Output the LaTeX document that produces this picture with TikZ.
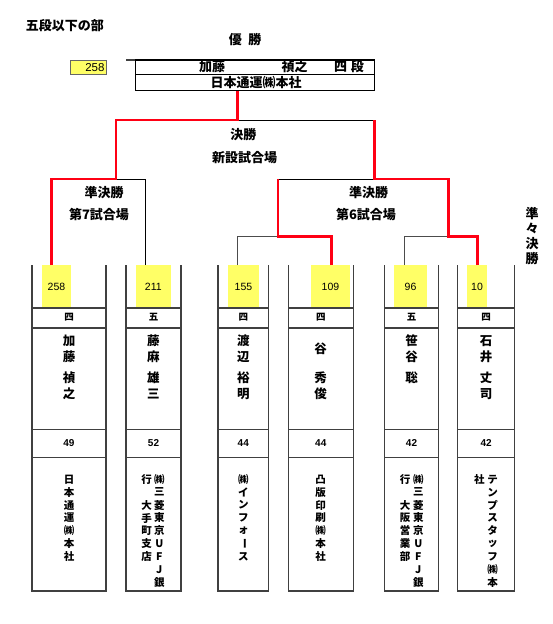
\documentclass[tikz,border=0pt]{standalone}
\usepackage{fontspec}
\setmainfont{Noto Sans CJK JP}
\newfontfamily\numfont{Liberation Sans}
\usepackage{graphicx}
\definecolor{hlyellow}{RGB}{255,255,102}
\definecolor{winred}{RGB}{255,0,20}
\newcommand\vcolumn[5]{%
  \foreach \c [count=\i from 0] in {#5} {\node[cotext] (#1-\i) at (#2,#3+\i*#4) {\c};}}
\begin{document}
\begin{tikzpicture}[x=1pt,y=-1pt,
  lbl/.style={inner sep=0pt,font=\bfseries\fontsize{13}{13}\selectfont},
  nmtext/.style={inner sep=0pt,font=\bfseries\fontsize{12.5}{13}\selectfont},
  grtext/.style={inner sep=0pt,font=\bfseries\fontsize{9.5}{10}\selectfont},
  agetext/.style={inner sep=0pt,font=\numfont\bfseries\fontsize{10}{10}\selectfont},
  numtext/.style={inner sep=0pt,font=\numfont\fontsize{10.5}{10}\selectfont},
  cotext/.style={inner sep=0pt,font=\bfseries\fontsize{10.5}{11}\selectfont},
  thin/.style={black,line width=0.8pt},
  redline/.style={winred,line width=2.8pt,line join=miter},
  boxline/.style={black!75,line width=1.2pt},
  ]
\useasboundingbox (0,0) rectangle (553,624);
% ---------- headings
\node[lbl,anchor=west] (title) at (25.7,26) {五段以下の部};
\node[lbl] (champ) at (245,40) {優\hspace{0.5em}勝};
% ---------- winner table
\fill[hlyellow] (70.3,60.7) rectangle (106,74.3);
\draw[black!60,line width=1pt] (70.3,60.7) rectangle (106,74.3);
\node[numtext,anchor=east,font=\numfont\fontsize{11.5}{12}\selectfont] (wnum) at (104.7,67.8) {258};
\draw[black!75,line width=1.2pt] (126,60) -- (374.3,60);
\draw[black,line width=1.1pt] (135.3,60) rectangle (374.3,90.7);
\draw[black,line width=1.1pt] (135.3,74.3) -- (374.3,74.3);
\node[lbl] (wsur) at (212,66.9) {加藤};
\node[lbl] (wgiv) at (294.5,66.9) {禎之};
\node[lbl] (wgrade) at (349,66.9) {四\hspace{0.3em}段};
\node[lbl] (wcomp) at (256,82.7) {日本通運㈱本社};
% ---------- bracket labels
\node[lbl] (fin1) at (243.3,135) {決勝};
\node[lbl] (fin2) at (244.5,157.3) {新設試合場};
\node[lbl] (sfl1) at (104,192.7) {準決勝};
\node[lbl] (sfl2) at (99,215) {第7試合場};
\node[lbl] (sfr1) at (368.7,192.7) {準決勝};
\node[lbl] (sfr2) at (366,215) {第6試合場};
\node[lbl] (qf1) at (532,213.3) {準};
\node[lbl] (qf2) at (532,228.5) {々};
\node[lbl] (qf3) at (532,244) {決};
\node[lbl] (qf4) at (532,258.5) {勝};
% ---------- coordinates
\coordinate (topbot) at (237.7,90.7);
\coordinate (fM) at (237.7,120);
\coordinate (fR) at (374.3,120);
\coordinate (sLm) at (116,179);
\coordinate (sRl) at (278,179);
\coordinate (sRm) at (374.3,179);
\coordinate (q1m) at (278,236.7);
\coordinate (q2m) at (448.3,236.7);
\coordinate (t1) at (51.7,265);
\coordinate (t2) at (145.3,265);
\coordinate (t3) at (237.7,265);
\coordinate (t4) at (331.7,265);
\coordinate (t5) at (404,265);
\coordinate (t6) at (477.3,265);
% ---------- yellow cells
\fill[hlyellow] (42,265) rectangle (71,308);
\fill[hlyellow] (135.7,265) rectangle (171,308);
\fill[hlyellow] (228,265) rectangle (259,308);
\fill[hlyellow] (311,265) rectangle (350,308);
\fill[hlyellow] (394,265) rectangle (427,308);
\fill[hlyellow] (467,265) rectangle (487,308);
% ---------- thin bracket lines
\draw[thin] (t2) |- (sLm);
\draw[thin] (fM) -- (fR);
\draw[thin] (sRl) -- (sRm);
\draw[black!70,line width=0.8pt] (t3) |- (q1m);
\draw[black!70,line width=0.8pt] (t5) |- (q2m);
% ---------- red winner lines
\draw[redline] (t1) |- (sLm) |- (fM) -- (topbot);
\draw[redline] (t4) |- (q1m) -- (sRl);
\draw[redline] (t6) |- (q2m) |- (sRm) -- (fR);
% ---------- player boxes
\foreach \L/\R in {32/106,126/181,218/268.7,288.3/353.3,384.7/438.3,457.7/514.7}{
  \draw[boxline] (\L,265) -- (\L,591) -- (\R,591) -- (\R,265);
  \draw[boxline] (\L,308) -- (\R,308);
  \draw[boxline] (\L,328) -- (\R,328);
  \draw[boxline] (\L,429.3) -- (\R,429.3);
  \draw[boxline] (\L,457.3) -- (\R,457.3);
}
% numbers
\node[numtext] (n1) at (56.5,287) {258};
\node[numtext] (n2) at (153.3,287) {211};
\node[numtext] (n3) at (243.5,287) {155};
\node[numtext] (n4) at (330.5,287) {109};
\node[numtext] (n5) at (410.5,287) {96};
\node[numtext] (n6) at (477,287) {10};
% grades
\node[grtext] (g1) at (69,317.5) {四};
\node[grtext] (g2) at (153.5,317.5) {五};
\node[grtext] (g3) at (243.3,317.5) {四};
\node[grtext] (g4) at (320.8,317.5) {四};
\node[grtext] (g5) at (411.5,317.5) {五};
\node[grtext] (g6) at (486.2,317.5) {四};
% names
\node[nmtext] (p1a) at (69,341) {加};
\node[nmtext] (p1b) at (69,357) {藤};
\node[nmtext] (p1c) at (69,378) {禎};
\node[nmtext] (p1d) at (69,394) {之};
\node[nmtext] (p2a) at (153.3,341) {藤};
\node[nmtext] (p2b) at (153.3,357) {麻};
\node[nmtext] (p2c) at (153.3,378) {雄};
\node[nmtext] (p2d) at (153.3,394) {三};
\node[nmtext] (p3a) at (243.3,341) {渡};
\node[nmtext] (p3b) at (243.3,357) {辺};
\node[nmtext] (p3c) at (243.3,378) {裕};
\node[nmtext] (p3d) at (243.3,394) {明};
\node[nmtext] (p4a) at (320.7,349) {谷};
\node[nmtext] (p4c) at (320.7,378) {秀};
\node[nmtext] (p4d) at (320.7,394) {俊};
\node[nmtext] (p5a) at (411.7,341) {笹};
\node[nmtext] (p5b) at (411.7,357) {谷};
\node[nmtext] (p5c) at (411.7,378) {聡};
\node[nmtext] (p6a) at (486,341) {石};
\node[nmtext] (p6b) at (486,357) {井};
\node[nmtext] (p6c) at (486,378) {丈};
\node[nmtext] (p6d) at (486,394) {司};
% ages
\node[agetext] (a1) at (69,443) {49};
\node[agetext] (a2) at (153.5,443) {52};
\node[agetext] (a3) at (243.3,443) {44};
\node[agetext] (a4) at (320.8,443) {44};
\node[agetext] (a5) at (411.5,443) {42};
\node[agetext] (a6) at (486.2,443) {42};
% companies
\vcolumn{c1}{69}{479.3}{12.9}{日,本,通,運,㈱,本,社}
\vcolumn{c2r}{159.3}{479.3}{12.9}{㈱,三,菱,東,京,U,F,J,銀}
\vcolumn{c2a}{146.7}{479.3}{12.9}{行}
\vcolumn{c2b}{146.7}{505.1}{12.9}{大,手,町,支,店}
\vcolumn{c3}{243.3}{479.3}{12.9}{㈱,イ,ン,フ,ォ,{\rotatebox[origin=c]{-90}{ー}},ス}
\vcolumn{c4}{320.7}{479.3}{12.9}{凸,版,印,刷,㈱,本,社}
\vcolumn{c5r}{418.3}{479.3}{12.9}{㈱,三,菱,東,京,U,F,J,銀}
\vcolumn{c5a}{405}{479.3}{12.9}{行}
\vcolumn{c5b}{405}{505.1}{12.9}{大,阪,営,業,部}
\vcolumn{c6r}{492.7}{479.3}{12.9}{テ,ン,プ,ス,タ,ッ,フ,㈱,本}
\vcolumn{c6a}{479.3}{479.3}{12.9}{社}
\end{tikzpicture}
\end{document}
